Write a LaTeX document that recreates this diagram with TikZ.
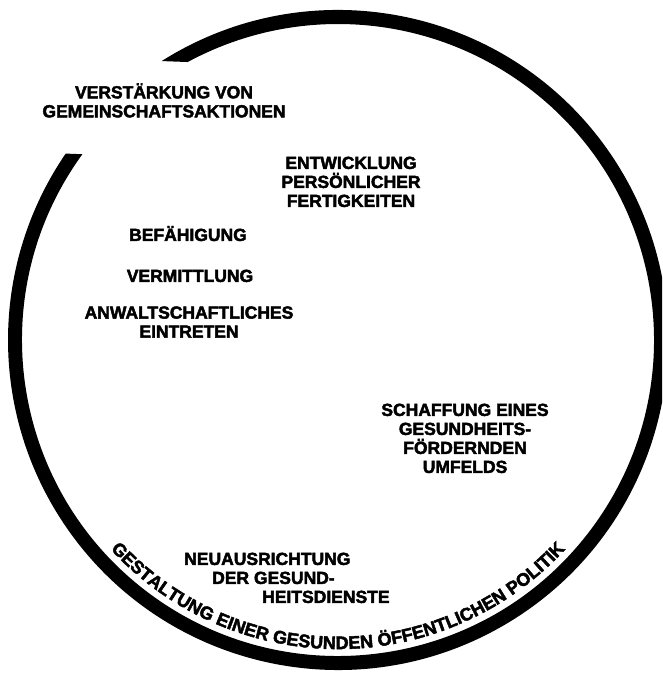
\documentclass[tikz,border=0pt]{standalone}
\usepackage{fontspec}
\setmainfont{Liberation Sans}[BoldFeatures={FakeBold=2.5}]
\usepackage{tikz}
\usetikzlibrary{decorations.text}
\newcommand{\labelfont}{\bfseries\fontsize{17.5}{19}\selectfont}
\newcommand{\arcfont}{\bfseries\fontsize{18}{19}\selectfont}
\newcommand{\blocklabel}[4]{\node[align=center, anchor=north, inner sep=0pt, font=\labelfont] (#1) at (#2,#3) {#4};}
\newcommand{\drawring}[2]{
    \fill[shift={(ctr)}] (122.3:#1) arc[start angle=122.3, end angle=-214.4, radius=#1]
        -- (-216:#2) arc[start angle=-216, end angle=118.4, radius=#2] -- cycle;
}

\begin{document}
\begin{tikzpicture}[x=1pt, y=1pt]
\clip (0,0) rectangle (662,676);
\coordinate (ctr) at (338,336);
\drawring{330}{316}
\blocklabel{community}{164}{592.8}{VERSTÄRKUNG VON\\GEMEINSCHAFTSAKTIONEN}
\blocklabel{skills}{351}{519.5}{ENTWICKLUNG\\PERSÖNLICHER\\FERTIGKEITEN}
\blocklabel{enable}{188}{450.2}{BEFÄHIGUNG}
\blocklabel{mediate}{190}{406.5}{VERMITTLUNG}
\blocklabel{advocate}{189}{369.8}{ANWALTSCHAFTLICHES\\EINTRETEN}
\blocklabel{environ}{465}{272.5}{SCHAFFUNG EINES\\GESUNDHEITS-\\FÖRDERNDEN\\UMFELDS}
\node[align=left, anchor=north west, inner sep=0pt, font=\labelfont] (services) at (184,123.5) {NEUAUSRICHTUNG\\\hspace*{28pt}DER GESUND-\\\hspace*{78pt}HEITSDIENSTE};
\path[decorate, decoration={text along path, text align=center,
    text={|\arcfont|GESTALTUNG EINER GESUNDEN ÖFFENTLICHEN POLITIK}}]
    (ctr) ++(210:309) arc[start angle=210, end angle=330, radius=309];
\end{tikzpicture}
\end{document}
